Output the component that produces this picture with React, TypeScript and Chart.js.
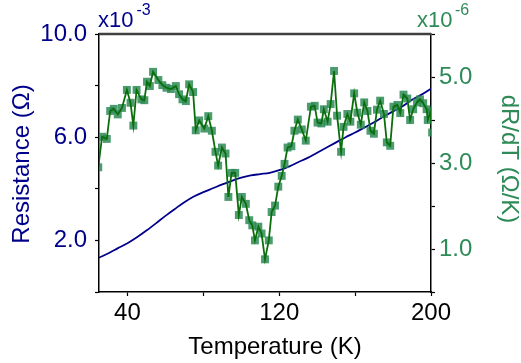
import React, { useEffect, useRef } from "react";
import { Chart, registerables } from "chart.js";

Chart.register(...registerables);

// Resistance curve, in units of 1e-3 Ω
const resistanceTemps = [
  25, 30, 35, 40, 45, 50, 55, 60, 65, 70, 75, 80, 85, 90, 95, 100, 105, 110,
  115, 120, 125, 130, 135, 140, 145, 150, 155, 160, 165, 170, 175, 180, 185,
  190, 195, 200,
];
const resistanceValues = [
  1.33, 1.5, 1.7, 1.89, 2.12, 2.38, 2.66, 2.95, 3.22, 3.48, 3.7, 3.87, 4.02,
  4.17, 4.31, 4.43, 4.52, 4.57, 4.62, 4.72, 4.86, 5.03, 5.2, 5.4, 5.6, 5.8,
  6.0, 6.18, 6.38, 6.58, 6.8, 7.0, 7.2, 7.45, 7.65, 7.88,
];

// Derivative dR/dT, in units of 1e-6 Ω/K
const derivTemps = [
  24.6, 26.6, 29.1, 30.9, 32.8, 34.9, 37.1, 39.7, 41.6, 43.1, 44.8, 47.3, 48.9,
  50.3, 51.8, 53.5, 56.3, 58.4, 60.6, 62.9, 65.5, 67.2, 69.0, 70.8, 72.5, 74.6,
  76.0, 77.8, 80.5, 82.6, 84.5, 86.4, 87.8, 89.8, 91.7, 93.2, 94.9, 96.8, 98.7,
  100.3, 102.4, 104.2, 105.8, 107.2, 109.0, 110.7, 112.5, 114.5, 116.0, 117.8,
  119.5, 121.3, 122.8, 124.4, 126.4, 128.0, 129.8, 131.9, 134.0, 136.7, 138.7,
  140.2, 142.2, 143.5, 145.5, 147.1, 148.9, 150.5, 152.6, 153.9, 155.9, 157.5,
  159.5, 161.2, 163.0, 164.8, 166.5, 168.1, 169.9, 171.5, 173.2, 175.2, 176.7,
  178.5, 180.2, 182.3, 183.8, 185.5, 187.5, 189.0, 190.6, 192.6, 194.2, 195.9,
  197.7, 198.3, 199.8, 200.6,
];
const derivValues = [
  2.9, 3.61, 3.56, 4.21, 4.26, 4.13, 4.28, 4.7, 4.4, 3.87, 4.7, 4.48, 4.46,
  4.89, 4.79, 5.12, 4.93, 4.81, 4.75, 4.72, 4.79, 4.6, 4.48, 4.44, 4.83, 4.65,
  3.76, 3.99, 3.8, 4.09, 3.75, 3.26, 2.94, 3.36, 3.22, 2.21, 2.77, 2.77, 1.79,
  2.21, 2.05, 1.67, 1.55, 1.2, 1.52, 1.36, 0.76, 1.2, 1.86, 2.01, 2.45, 2.7,
  2.98, 3.36, 3.39, 3.75, 4.01, 3.78, 3.52, 4.31, 4.33, 3.94, 3.92, 4.25, 3.96,
  4.37, 5.14, 4.1, 3.26, 3.84, 4.14, 3.96, 4.62, 4.17, 3.89, 4.41, 4.21, 3.75,
  3.68, 4.24, 4.45, 4.14, 3.48, 3.4, 4.31, 4.35, 4.16, 4.59, 4.5, 4.0, 4.25,
  4.41, 4.48, 4.39, 4.25, 4.0, 4.19, 3.71,
];

// Axis ticks and their labels
const xTickValues = [40, 80, 120, 160, 200];
const xTickLabels = ["40", "", "120", "", "200"];
const leftTickValues = [0, 2, 4, 6, 8, 10];
const leftTickLabels = ["", "2.0", "", "6.0", "", "10.0"];
const rightTickValues = [0, 1, 2, 3, 4, 5, 6];
const rightTickLabels = ["", "1.0", "", "3.0", "", "5.0", ""];

const FONT = "'Liberation Sans', Arial, Helvetica, sans-serif";
const NAVY = "#00008b";
const SEA_GREEN = "#2e8b57";
const LINE_GREEN = "#0a6e0a";

const annotations = {
  id: "annotations",
  afterDraw(chart: any) {
    const { ctx, chartArea } = chart;
    ctx.save();

    // heavier top frame line
    ctx.strokeStyle = "#404040";
    ctx.lineWidth = 2.5;
    ctx.beginPath();
    ctx.moveTo(chartArea.left, chartArea.top);
    ctx.lineTo(chartArea.right, chartArea.top);
    ctx.stroke();

    ctx.textBaseline = "alphabetic";

    // multiplier labels
    ctx.fillStyle = NAVY;
    ctx.textAlign = "left";
    ctx.font = `22px ${FONT}`;
    ctx.fillText("x10", 98, 27);
    ctx.font = `16px ${FONT}`;
    ctx.fillText("-3", 136.5, 15);

    ctx.fillStyle = SEA_GREEN;
    ctx.font = `22px ${FONT}`;
    ctx.fillText("x10", 417, 27);
    ctx.font = `16px ${FONT}`;
    ctx.fillText("-6", 455, 15);

    // axis titles
    ctx.font = `24px ${FONT}`;
    ctx.fillStyle = "#000";
    ctx.textAlign = "center";
    ctx.fillText("Temperature (K)", 275, 354);

    ctx.textBaseline = "middle";
    ctx.fillStyle = NAVY;
    ctx.save();
    ctx.translate(22, 164);
    ctx.rotate(-Math.PI / 2);
    ctx.fillText("Resistance (Ω)", 0, 0);
    ctx.restore();

    ctx.fillStyle = SEA_GREEN;
    ctx.save();
    ctx.translate(509, 159);
    ctx.rotate(Math.PI / 2);
    ctx.fillText("dR/dT (Ω/K)", 0, 0);
    ctx.restore();

    ctx.restore();
  },
};

export default function App() {
  const canvasRef = useRef<HTMLCanvasElement | null>(null);

  useEffect(() => {
    const canvas = canvasRef.current;
    if (!canvas) return;

    const resistancePoints = resistanceTemps.map((t, i) => ({ x: t, y: resistanceValues[i] }));
    const derivPoints = derivTemps.map((t, i) => ({ x: t, y: derivValues[i] }));

    const chart = new Chart(canvas, {
      type: "line",
      data: {
        datasets: [
          {
            data: derivPoints,
            yAxisID: "yR",
            borderColor: LINE_GREEN,
            borderWidth: 1.8,
            pointRadius: 0,
            tension: 0,
            clip: 0,
            order: 0,
          },
          {
            data: derivPoints,
            yAxisID: "yR",
            showLine: false,
            pointStyle: "rect",
            pointRadius: 5.6,
            pointBackgroundColor: "rgba(46,139,87,0.85)",
            pointBorderWidth: 0,
            clip: 0,
            order: 1,
          },
          {
            data: resistancePoints,
            yAxisID: "yL",
            borderColor: NAVY,
            borderWidth: 1.8,
            pointRadius: 0,
            cubicInterpolationMode: "monotone",
            clip: 0,
            order: 2,
          },
        ],
      },
      options: {
        animation: false,
        responsive: false,
        maintainAspectRatio: false,
        events: [],
        layout: { padding: { top: 34, left: 0, right: 0, bottom: 0 } },
        plugins: {
          legend: { display: false },
          tooltip: { enabled: false },
        },
        scales: {
          x: {
            type: "linear",
            position: "bottom",
            min: 25,
            max: 200,
            afterBuildTicks: (s: any) => {
              s.ticks = xTickValues.map((v) => ({ value: v }));
            },
            afterFit: (s: any) => {
              s.height = 71;
            },
            ticks: {
              callback: (_v: any, i: number) => xTickLabels[i],
              color: "#000",
              font: { family: FONT, size: 24 },
              padding: 3,
              maxRotation: 0,
              autoSkip: false,
            },
            grid: { drawOnChartArea: false, tickLength: 4, tickColor: "#000", tickWidth: 1.2 },
            border: { color: "#000", width: 1.5 },
          },
          yL: {
            type: "linear",
            position: "left",
            min: 0,
            max: 10,
            afterBuildTicks: (s: any) => {
              s.ticks = leftTickValues.map((v) => ({ value: v }));
            },
            afterFit: (s: any) => {
              s.width = 99;
            },
            ticks: {
              callback: (_v: any, i: number) => leftTickLabels[i],
              color: NAVY,
              font: { family: FONT, size: 24 },
              padding: 8,
              autoSkip: false,
            },
            grid: { drawOnChartArea: false, tickLength: 4, tickColor: "#000", tickWidth: 1.2 },
            border: { color: "#000", width: 1.5 },
          },
          yR: {
            type: "linear",
            position: "right",
            min: 0,
            max: 6,
            afterBuildTicks: (s: any) => {
              s.ticks = rightTickValues.map((v) => ({ value: v }));
            },
            afterFit: (s: any) => {
              s.width = 90;
            },
            ticks: {
              callback: (_v: any, i: number) => rightTickLabels[i],
              color: SEA_GREEN,
              font: { family: FONT, size: 24 },
              padding: 4,
              autoSkip: false,
            },
            grid: { drawOnChartArea: false, tickLength: 4, tickColor: "#000", tickWidth: 1.2 },
            border: { color: "#000", width: 1.5 },
          },
        },
      },
      plugins: [annotations],
    } as any);

    return () => {
      chart.destroy();
    };
  }, []);

  return (
    <div style={{ position: "absolute", left: 0, top: 0, width: 521, height: 363, background: "#fff" }}>
      <canvas ref={canvasRef} width={521} height={363} style={{ display: "block" }} />
    </div>
  );
}
